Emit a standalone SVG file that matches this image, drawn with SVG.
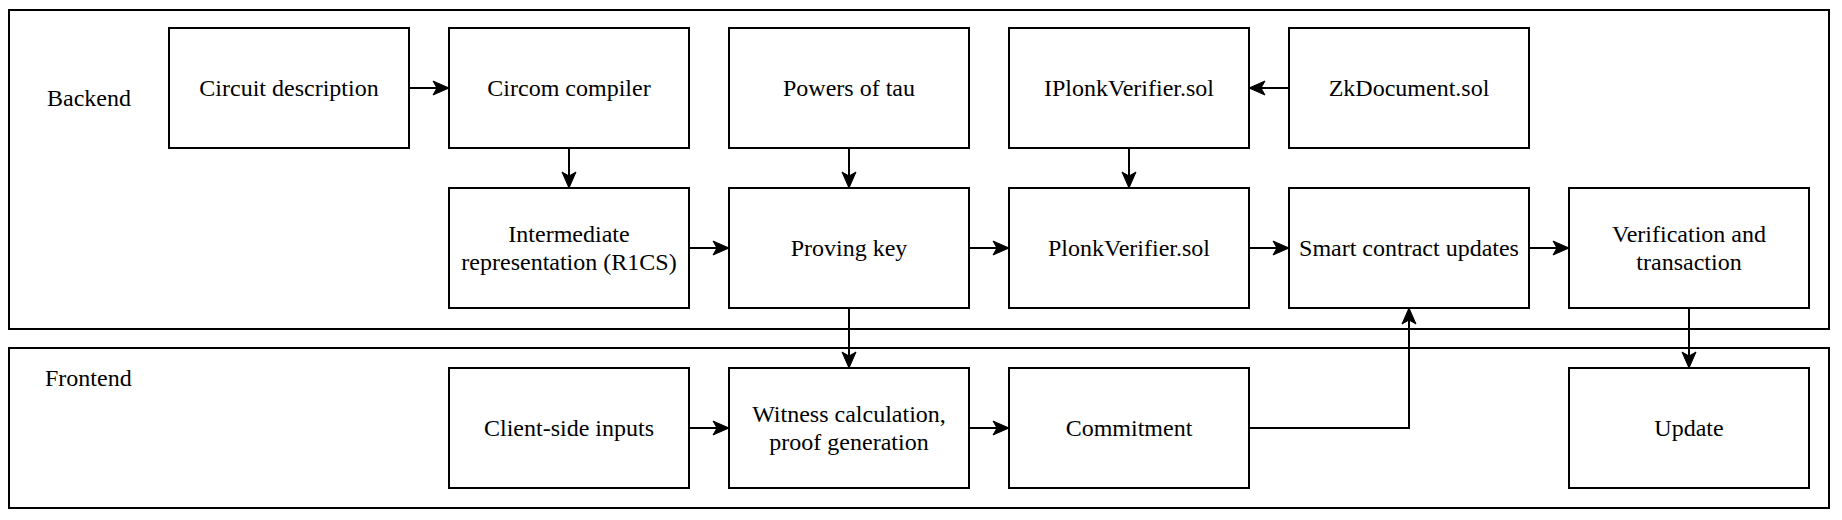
<svg xmlns="http://www.w3.org/2000/svg" width="1842" height="520" viewBox="0 0 1842 520">
<style>
  .box { fill: #ffffff; stroke: #000000; stroke-width: 2; }
  .frame { fill: none; stroke: #000000; stroke-width: 2; }
  .lbl { font-family: "Liberation Serif", "Times New Roman", serif; font-size: 24px; fill: #000000; }
  .c { text-anchor: middle; }
  .edge { fill: none; stroke: #000000; stroke-width: 2; marker-end: url(#arrow); }
</style>
<defs>
  <marker id="arrow" markerUnits="userSpaceOnUse" markerWidth="18" markerHeight="16" refX="17" refY="8" orient="auto" viewBox="0 0 18 16">
    <path d="M1,1 L17,8 L1,15 L5,8 Z" fill="#000000" stroke="#000000" stroke-width="1"/>
  </marker>
</defs>
<rect width="1842" height="520" fill="#ffffff"/>

<g id="backend">
  <rect class="frame" x="9" y="10" width="1820" height="319"/>
  <text class="lbl" x="47" y="106">Backend</text>
</g>
<g id="frontend">
  <rect class="frame" x="9" y="348" width="1820" height="160"/>
  <text class="lbl" x="45" y="386">Frontend</text>
</g>

<g id="circuit-description">
  <rect class="box" x="169" y="28" width="240" height="120"/>
  <text class="lbl c" x="289" y="96">Circuit description</text>
</g>
<g id="circom-compiler">
  <rect class="box" x="449" y="28" width="240" height="120"/>
  <text class="lbl c" x="569" y="96">Circom compiler</text>
</g>
<g id="powers-of-tau">
  <rect class="box" x="729" y="28" width="240" height="120"/>
  <text class="lbl c" x="849" y="96">Powers of tau</text>
</g>
<g id="iplonkverifier">
  <rect class="box" x="1009" y="28" width="240" height="120"/>
  <text class="lbl c" x="1129" y="96">IPlonkVerifier.sol</text>
</g>
<g id="zkdocument">
  <rect class="box" x="1289" y="28" width="240" height="120"/>
  <text class="lbl c" x="1409" y="96">ZkDocument.sol</text>
</g>

<g id="intermediate">
  <rect class="box" x="449" y="188" width="240" height="120"/>
  <text class="lbl c" x="569" y="241.6">Intermediate</text>
  <text class="lbl c" x="569" y="270.4">representation (R1CS)</text>
</g>
<g id="proving-key">
  <rect class="box" x="729" y="188" width="240" height="120"/>
  <text class="lbl c" x="849" y="256">Proving key</text>
</g>
<g id="plonkverifier">
  <rect class="box" x="1009" y="188" width="240" height="120"/>
  <text class="lbl c" x="1129" y="256">PlonkVerifier.sol</text>
</g>
<g id="smart-contract-updates">
  <rect class="box" x="1289" y="188" width="240" height="120"/>
  <text class="lbl c" x="1409" y="256">Smart contract updates</text>
</g>
<g id="verification">
  <rect class="box" x="1569" y="188" width="240" height="120"/>
  <text class="lbl c" x="1689" y="241.6">Verification and</text>
  <text class="lbl c" x="1689" y="270.4">transaction</text>
</g>

<g id="client-side-inputs">
  <rect class="box" x="449" y="368" width="240" height="120"/>
  <text class="lbl c" x="569" y="436">Client-side inputs</text>
</g>
<g id="witness">
  <rect class="box" x="729" y="368" width="240" height="120"/>
  <text class="lbl c" x="849" y="421.6">Witness calculation,</text>
  <text class="lbl c" x="849" y="450.4">proof generation</text>
</g>
<g id="commitment">
  <rect class="box" x="1009" y="368" width="240" height="120"/>
  <text class="lbl c" x="1129" y="436">Commitment</text>
</g>
<g id="update">
  <rect class="box" x="1569" y="368" width="240" height="120"/>
  <text class="lbl c" x="1689" y="436">Update</text>
</g>

<g id="connectors">
  <path class="edge" d="M409,88 L449,88"/>
  <path class="edge" d="M569,148 L569,188"/>
  <path class="edge" d="M849,148 L849,188"/>
  <path class="edge" d="M1289,88 L1249,88"/>
  <path class="edge" d="M1129,148 L1129,188"/>
  <path class="edge" d="M689,248 L729,248"/>
  <path class="edge" d="M969,248 L1009,248"/>
  <path class="edge" d="M1249,248 L1289,248"/>
  <path class="edge" d="M1529,248 L1569,248"/>
  <path class="edge" d="M849,308 L849,368"/>
  <path class="edge" d="M689,428 L729,428"/>
  <path class="edge" d="M969,428 L1009,428"/>
  <path class="edge" d="M1249,428 L1409,428 L1409,308"/>
  <path class="edge" d="M1689,308 L1689,368"/>
</g>
</svg>
